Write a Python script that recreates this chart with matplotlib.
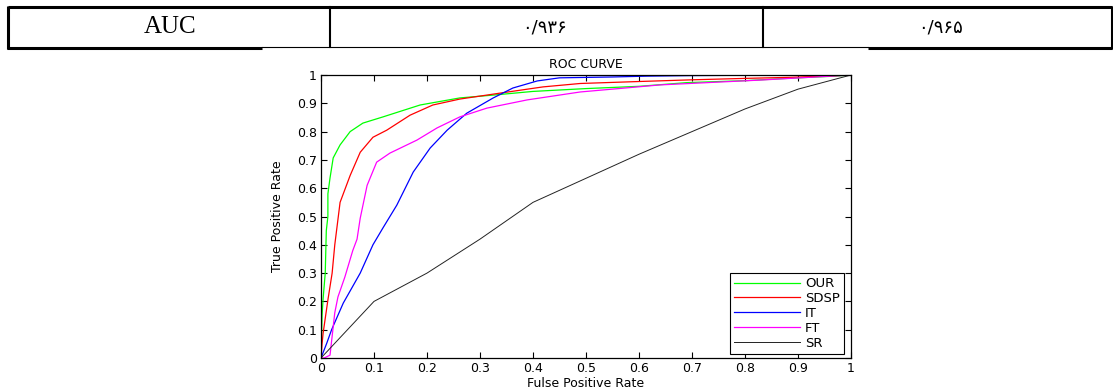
import numpy as np
import matplotlib.pyplot as plt

# table row above the chart
row_cells = ["AUC", "۰/۹۳۶", "۰/۹۶۵"]

# ROC curves (fpr, tpr)
fpr_our = [0, 0.002, 0.004, 0.008, 0.010, 0.013, 0.013, 0.017, 0.023, 0.036, 0.055, 0.079,
           0.117, 0.187, 0.262, 0.325, 0.4, 0.5, 0.6, 0.69, 0.8, 0.9, 0.97, 1.0]
tpr_our = [0, 0.15, 0.21, 0.30, 0.45, 0.50, 0.58, 0.636, 0.707, 0.753, 0.80, 0.83,
           0.852, 0.894, 0.919, 0.929, 0.942, 0.952, 0.96, 0.973, 0.98, 0.99, 0.996, 1.0]

fpr_sdsp = [0, 0.002, 0.004, 0.013, 0.021, 0.026, 0.036, 0.055, 0.074, 0.098, 0.124, 0.168,
            0.211, 0.262, 0.338, 0.419, 0.489, 0.6, 0.7, 0.8, 0.89, 1.0]
tpr_sdsp = [0, 0.05, 0.088, 0.205, 0.30, 0.40, 0.55, 0.645, 0.727, 0.78, 0.805, 0.858,
            0.894, 0.915, 0.936, 0.958, 0.97, 0.977, 0.983, 0.988, 0.992, 1.0]

fpr_it = [0, 0.011, 0.02, 0.042, 0.074, 0.098, 0.117, 0.143, 0.174, 0.206, 0.238, 0.275,
          0.325, 0.362, 0.408, 0.45, 0.55, 0.615, 0.7, 0.8, 0.9, 1.0]
tpr_it = [0, 0.053, 0.10, 0.194, 0.30, 0.40, 0.46, 0.54, 0.657, 0.742, 0.805, 0.865,
          0.919, 0.954, 0.979, 0.99, 0.993, 0.996, 0.998, 0.999, 1.0, 1.0]

fpr_ft = [0, 0.006, 0.017, 0.026, 0.032, 0.045, 0.06, 0.068, 0.074, 0.087, 0.105, 0.13,
          0.181, 0.219, 0.262, 0.313, 0.389, 0.489, 0.64, 0.828, 1.0]
tpr_ft = [0, 0.0, 0.01, 0.16, 0.216, 0.286, 0.38, 0.42, 0.494, 0.61, 0.692, 0.724,
          0.77, 0.813, 0.852, 0.883, 0.912, 0.94, 0.965, 0.982, 1.0]

fpr_sr = [0, 0.1, 0.2, 0.3, 0.4, 0.5, 0.6, 0.7, 0.8, 0.9, 1.0]
tpr_sr = [0, 0.2, 0.3, 0.42, 0.55, 0.635, 0.72, 0.80, 0.88, 0.95, 1.0]

W, H = 1113, 390
fig = plt.figure(figsize=(W / 100, H / 100), dpi=100)

# overlay in pixel coords for the table part
ov = fig.add_axes([0, 0, 1, 1])
ov.set_xlim(0, W)
ov.set_ylim(H, 0)
ov.axis("off")

ov.plot([8, 1112], [7, 7], color="k", lw=2.2, solid_capstyle="butt")
ov.plot([8, 8], [6, 49], color="k", lw=2.2, solid_capstyle="butt")
ov.plot([1112, 1112], [6, 49], color="k", lw=2.2, solid_capstyle="butt")
ov.plot([330, 330], [7, 47], color="k", lw=1.5)
ov.plot([763, 763], [7, 47], color="k", lw=1.5)
ov.plot([7, 262], [48, 48], color="k", lw=2.2, solid_capstyle="butt")
ov.plot([262, 868], [46.5, 46.5], color="k", lw=0.8)
ov.plot([868, 1112], [48, 48], color="k", lw=2.2, solid_capstyle="butt")

ov.text(170, 27, row_cells[0], ha="center", va="center", fontsize=18,
        family="Liberation Serif")
ov.text(545, 27, row_cells[1], ha="center", va="center", fontsize=13,
        family=["DejaVu Sans"])
ov.text(941, 27, row_cells[2], ha="center", va="center", fontsize=13,
        family=["DejaVu Sans"])

# ROC axes
ax = fig.add_axes([321 / W, 32 / H, 530 / W, 283 / H])
ax.plot(fpr_our, tpr_our, color="#00ff00", lw=0.9, label="OUR")
ax.plot(fpr_sdsp, tpr_sdsp, color="#ff0000", lw=0.9, label="SDSP")
ax.plot(fpr_it, tpr_it, color="#0000ff", lw=0.9, label="IT")
ax.plot(fpr_ft, tpr_ft, color="#ff00ff", lw=0.9, label="FT")
ax.plot(fpr_sr, tpr_sr, color="#222222", lw=0.7, label="SR")

ax.set_xlim(0, 1)
ax.set_ylim(0, 1)
ticks = np.round(np.arange(0, 1.01, 0.1), 1)
labels = ["0"] + [f"{t:g}" for t in ticks[1:-1]] + ["1"]
ax.set_xticks(ticks)
ax.set_xticklabels(labels)
ax.set_yticks(ticks)
ax.set_yticklabels(labels)
ax.tick_params(direction="in", length=4, width=0.8, labelsize=9, pad=3,
               top=True, right=True)
for s in ax.spines.values():
    s.set_linewidth(0.9)

ax.set_title("ROC CURVE", fontsize=9, pad=5)
ax.set_xlabel("Fulse Positive Rate", fontsize=9, labelpad=1)
ax.set_ylabel("True Positive Rate", fontsize=9, labelpad=9)

leg = ax.legend(loc="lower right", bbox_to_anchor=(844 / W, 36 / H),
                bbox_transform=fig.transFigure, borderaxespad=0, fontsize=9.5,
                handlelength=5.0, handletextpad=0.4, labelspacing=0.15,
                borderpad=0.3, fancybox=False, framealpha=1)
leg.get_frame().set_edgecolor("k")
leg.get_frame().set_linewidth(0.8)

fig.savefig("out.png", dpi=100)
